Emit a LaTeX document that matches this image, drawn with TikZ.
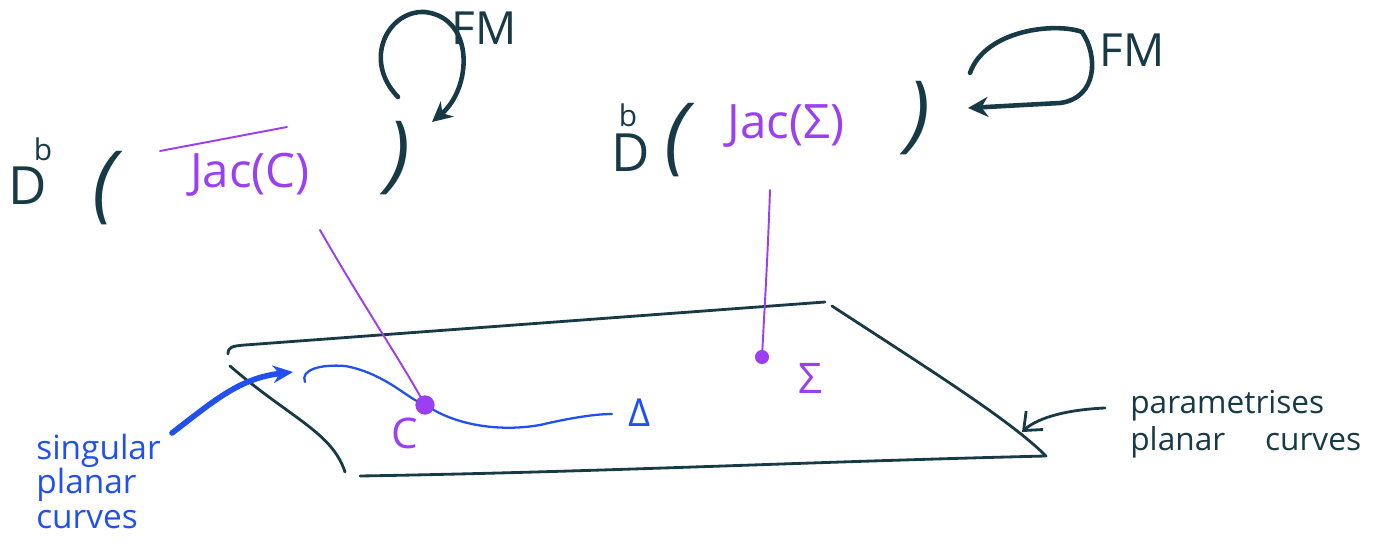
\documentclass[tikz,border=0pt]{standalone}
\usepackage{fontspec}
\setmainfont{Open Sans}
\usetikzlibrary{arrows.meta,positioning}
\definecolor{inkc}{HTML}{183A46}
\definecolor{jacc}{HTML}{9B3FF2}
\definecolor{curvc}{HTML}{2250EE}
\tikzset{
  >={Stealth[length=4mm,width=4mm]},
  ink/.style={draw=inkc,line width=1.6pt,line cap=round},
  loopln/.style={draw=inkc,line width=2.6pt,line cap=round},
  jline/.style={draw=jacc,line width=1.1pt,line cap=round},
  cline/.style={draw=curvc,line width=1.3pt,line cap=round},
  dlbl/.style={text=inkc,font=\fontsize{30}{30}\selectfont,inner sep=0pt},
  suplbl/.style={text=inkc,font=\fontsize{17}{17}\selectfont,inner sep=0pt},
  paren/.style={text=inkc,font=\fontsize{48}{48}\selectfont\itshape,inner sep=0pt},
  jaclbl/.style={text=jacc,font=\fontsize{27}{27}\selectfont,inner sep=0pt},
  fmlbl/.style={text=inkc,font=\fontsize{26}{26}\selectfont,inner sep=0pt},
  ptlbl/.style={text=jacc,font=\fontsize{24}{24}\selectfont,inner sep=0pt},
  note/.style={text=inkc,font=\fontsize{18}{21}\selectfont,align=left,inner sep=0pt},
  bnote/.style={text=curvc,font=\fontsize{19}{19.5}\selectfont,align=left,inner sep=0pt},
  pt/.style={circle,fill=jacc,inner sep=0pt,minimum size=#1},
}
\begin{document}
\begin{tikzpicture}[x=0.02cm,y=-0.02cm]
  \useasboundingbox[fill=white] (0,0) rectangle (1390,547);
  % left category
  \node[dlbl,anchor=north] (D1) at (28,167) {D};
  \node[suplbl,anchor=south] (b1) at (43,161) {b};
  \node[paren] (lp1) at (105,188) {(};
  \node[jaclbl] (jac1) at (250,175) {Jac(C)};
  \node[paren] (rp1) at (398,158) {)};
  \node[fmlbl] (fm1) at (484,28) {FM};
  \draw[jline] (160,151) -- (287,127);
  % right category
  \node[dlbl,anchor=north] (D2) at (631,134) {D};
  \node[suplbl,anchor=south] (b2) at (628,127) {b};
  \node[paren] (lp2) at (676,140) {(};
  \node[jaclbl] (jac2) at (786,126) {Jac(Σ)};
  \node[paren] (rp2) at (918,118) {)};
  \node[fmlbl] (fm2) at (1132,50) {FM};
  % autoequivalence loops
  \coordinate (l1s) at (398,97);
  \coordinate (l1e) at (432,122);
  \draw[loopln,->] (l1s) .. controls (362,60) and (388,10) .. (425,12)
    .. controls (475,18) and (472,88) .. (l1e);
  \coordinate (l2s) at (970,73);
  \coordinate (l2e) at (968,108);
  \draw[loopln,->] (l2s) .. controls (985,30) and (1055,22) .. (1082,32)
    .. controls (1098,55) and (1098,98) .. (1060,103) -- (l2e);
  % moduli space
  \draw[ink] (228,354) .. controls (228,347) and (232,346) .. (245,345) -- (825,302);
  \draw[ink] (230,366) .. controls (290,418) and (332,432) .. (345,472);
  \draw[ink] (360,476) .. controls (600,472) and (800,462) .. (1046,456);
  \draw[ink] (832,306) .. controls (930,370) and (1010,420) .. (1046,456);
  % points
  \node[pt=11pt] (C) at (425,405) {};
  \node[pt=8pt] (S) at (762,357) {};
  \node[ptlbl] (Clbl) at (405,433) {C};
  \node[ptlbl] (Slbl) at (810,378) {Σ};
  \coordinate (jc) at (320,230);
  \coordinate (js) at (770,190);
  \draw[jline] (jc) .. controls (360,300) and (400,360) .. (C);
  \draw[jline] (js) .. controls (768,250) and (765,300) .. (S);
  % discriminant
  \node[text=curvc,font=\fontsize{22}{22}\selectfont,inner sep=0pt] (Dl) at (640,413) {Δ};
  \coordinate (dst) at (305,382);
  \draw[cline] (dst) .. controls (300,370) and (320,364) .. (345,366)
    .. controls (380,372) and (405,395) .. (C)
    .. controls (460,425) and (500,432) .. (540,425)
    .. controls (570,418) and (595,414) .. (612,414);
  % annotations
  \node[bnote,anchor=north west] (sing) at (36,434) {singular\\planar\\curves};
  \coordinate (bae) at (293,372);
  \draw[curvc,line width=3.2pt,line cap=round,-{Stealth[length=4mm,width=3.5mm]}]
    (172,433) .. controls (215,400) and (240,378) .. (bae);
  \node[note,anchor=north west] (par) at (1130,390) {parametrises\\planar\quad\ curves};
  \coordinate (pae) at (1022,432);
  \draw[ink,-{Straight Barb[length=3mm,width=5mm]}] (1105,408) .. controls (1060,410) and (1035,420) .. (pae);
\end{tikzpicture}
\end{document}
